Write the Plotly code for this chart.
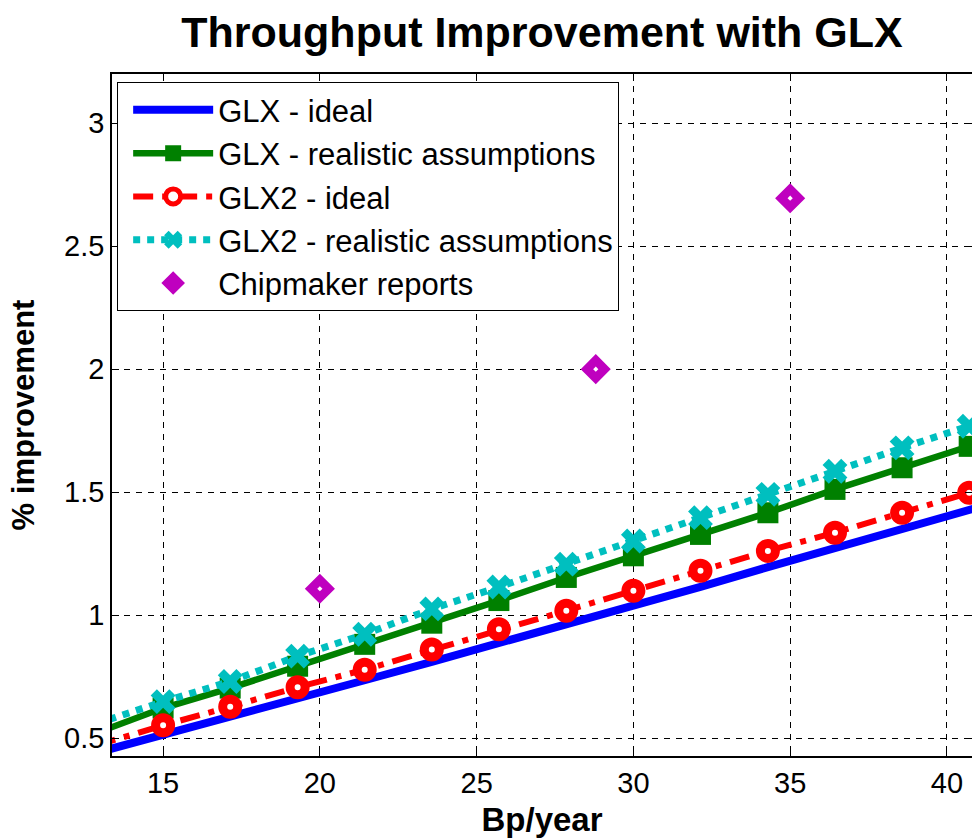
import plotly.graph_objects as go

# ---- data ----
bp_year = [12.86, 15.0, 17.14, 19.29, 21.43, 23.57, 25.71, 27.86, 30.0,
           32.14, 34.29, 36.43, 38.57, 40.71, 42.86]
glx_ideal = [0.44, 0.512, 0.585, 0.66, 0.735, 0.81, 0.885, 0.96, 1.04,
             1.115, 1.195, 1.27, 1.35, 1.428, 1.505]
glx_realistic = [0.52, 0.622, 0.703, 0.792, 0.881, 0.967, 1.059, 1.153, 1.241,
                 1.328, 1.416, 1.511, 1.599, 1.686, 1.774]
glx2_ideal = [0.47, 0.552, 0.627, 0.707, 0.778, 0.86, 0.942, 1.018, 1.099,
              1.18, 1.261, 1.335, 1.416, 1.497, 1.578]
glx2_realistic = [0.558, 0.648, 0.730, 0.833, 0.922, 1.025, 1.114, 1.207, 1.301,
                  1.396, 1.491, 1.585, 1.68, 1.768, 1.858]
chip_x = [20.0, 28.8, 35.0]
chip_y = [1.107, 2.0, 2.695]

x_ticks = [15, 20, 25, 30, 35, 40]
y_ticks = [0.5, 1.0, 1.5, 2.0, 2.5, 3.0]
y_tick_labels = ["0.5", "1", "1.5", "2", "2.5", "3"]

FONT = "Liberation Sans, Arial, Helvetica, sans-serif"
MAGENTA = "#BF00BF"

fig = go.Figure()
fig.add_trace(go.Scatter(
    x=bp_year, y=glx_ideal, mode="lines", name="GLX - ideal",
    line=dict(color="#0000FF", width=8)))
fig.add_trace(go.Scatter(
    x=bp_year, y=glx_realistic, mode="lines+markers", name="GLX - realistic assumptions",
    line=dict(color="#008000", width=6.5),
    marker=dict(symbol="square", size=21, color="#008000")))
fig.add_trace(go.Scatter(
    x=bp_year, y=glx2_ideal, mode="lines+markers", name="GLX2 - ideal",
    line=dict(color="#FF0000", width=6, dash="20px,9px,6px,9px"),
    marker=dict(symbol="circle", size=15, color="white",
                line=dict(color="#FF0000", width=9))))
fig.add_trace(go.Scatter(
    x=bp_year, y=glx2_realistic, mode="lines+markers", name="GLX2 - realistic assumptions",
    line=dict(color="#00BFBF", width=7, dash="7px,7px"),
    marker=dict(symbol="x", size=22, color="#00BFBF")))
fig.add_trace(go.Scatter(
    x=chip_x, y=chip_y, mode="markers", name="Chipmaker reports",
    legendgroup="chip",
    marker=dict(symbol="diamond", size=21, color=MAGENTA,
                line=dict(color=MAGENTA, width=2))))
# small white centre of the chipmaker diamonds
fig.add_trace(go.Scatter(
    x=chip_x, y=chip_y, mode="markers", showlegend=False, legendgroup="chip",
    hoverinfo="skip",
    marker=dict(symbol="diamond", size=4, color="white")))

axis_common = dict(
    showline=True, linecolor="black", linewidth=1.5, mirror="ticks",
    ticks="inside", ticklen=7, tickcolor="black", tickwidth=1,
    showgrid=True, gridcolor="black", gridwidth=1, griddash="6px,6px",
    zeroline=False, automargin=False,
    tickfont=dict(family=FONT, size=29, color="black"),
)

fig.update_layout(
    width=972, height=840,
    paper_bgcolor="white", plot_bgcolor="white",
    margin=dict(l=112, r=0, t=74, b=84),
    title=dict(text="<b>Throughput Improvement with GLX</b>",
               font=dict(family=FONT, size=43, color="black"),
               x=0.5, xref="paper", xanchor="center", y=0.962, yanchor="middle"),
    xaxis=dict(range=[13.37, 40.8], tickvals=x_ticks,
               title=dict(text="<b>Bp/year</b>", font=dict(family=FONT, size=33, color="black"),
                          standoff=10),
               **axis_common),
    yaxis=dict(range=[0.427, 3.2], tickvals=y_ticks, ticktext=y_tick_labels,
               title=dict(text="<b>% improvement</b>", font=dict(family=FONT, size=31, color="black"),
                          standoff=20),
               **axis_common),
    legend=dict(x=0.006, y=0.988, xanchor="left", yanchor="top",
                bgcolor="white", bordercolor="black", borderwidth=1,
                font=dict(family=FONT, size=31, color="black"),
                itemwidth=80, indentation=10, tracegroupgap=0),
    showlegend=True,
)

fig.write_html(
    "out.html",
    config={"displayModeBar": False},
    post_script="document.body.style.margin='0';document.body.style.overflow='hidden';",
)
